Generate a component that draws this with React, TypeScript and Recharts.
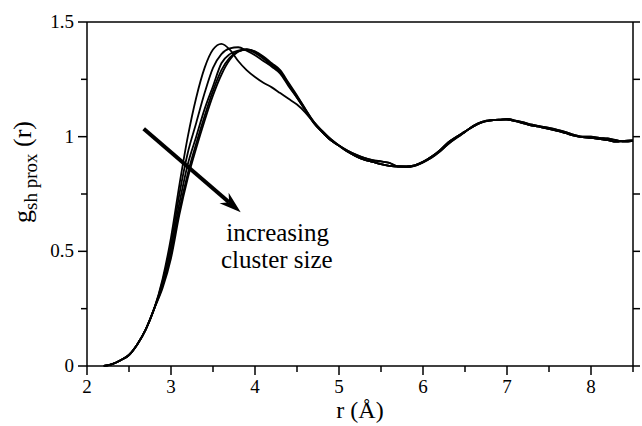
import { LineChart, Line, XAxis, YAxis, ReferenceLine, ReferenceDot } from "recharts";

const FONT = "'Liberation Serif', 'Times New Roman', serif";

// r grid (Å)
const R = [
  2.2, 2.3, 2.4, 2.5, 2.6, 2.7, 2.8, 2.9, 3.0, 3.1, 3.2, 3.3, 3.4, 3.5, 3.6, 3.7,
  3.8, 3.9, 4.0, 4.1, 4.2, 4.3, 4.4, 4.5, 4.6, 4.7, 4.8, 4.9, 5.0, 5.1, 5.2, 5.3,
  5.4, 5.5, 5.6, 5.7, 5.8, 5.9, 6.0, 6.1, 6.2, 6.3, 6.4, 6.5, 6.6, 6.7, 6.8, 6.9,
  7.0, 7.1, 7.2, 7.3, 7.4, 7.5, 7.6, 7.7, 7.8, 7.9, 8.0, 8.1, 8.2, 8.3, 8.4, 8.5,
];

// shared onset, r = 2.2 .. 2.8
const ONSET = [0, 0.008, 0.025, 0.048, 0.095, 0.16, 0.25];

// first peak region per cluster size, r = 2.9 .. 4.6
const PEAK_A = [0.38, 0.56, 0.79, 1.0, 1.17, 1.3, 1.38, 1.405, 1.38, 1.33, 1.29, 1.26, 1.235, 1.215, 1.19, 1.165, 1.14, 1.105];
const PEAK_B = [0.37, 0.53, 0.75, 0.93, 1.06, 1.19, 1.3, 1.36, 1.385, 1.39, 1.375, 1.355, 1.33, 1.305, 1.275, 1.22, 1.17, 1.115];
const PEAK_C = [0.36, 0.51, 0.71, 0.88, 1.0, 1.12, 1.22, 1.32, 1.36, 1.375, 1.38, 1.365, 1.34, 1.31, 1.28, 1.225, 1.17, 1.115];
const PEAK_D = [0.35, 0.49, 0.68, 0.84, 0.97, 1.09, 1.2, 1.29, 1.345, 1.372, 1.38, 1.37, 1.345, 1.315, 1.285, 1.23, 1.175, 1.12];
const PEAK_E = [0.34, 0.47, 0.66, 0.82, 0.95, 1.07, 1.18, 1.27, 1.335, 1.37, 1.38, 1.372, 1.35, 1.32, 1.29, 1.235, 1.18, 1.12];

// long-range part, r = 4.7 .. 8.5
const TAIL_1 = [
  1.06, 1.02, 0.985, 0.96, 0.935, 0.915, 0.9, 0.89, 0.88, 0.873, 0.87, 0.87, 0.875,
  0.89, 0.912, 0.94, 0.975, 1.0, 1.022, 1.045, 1.062, 1.07, 1.074, 1.074, 1.068,
  1.058, 1.048, 1.042, 1.034, 1.025, 1.015, 1.005, 0.998, 0.995, 0.99, 0.985, 0.978,
  0.982, 0.984,
];
const TAIL_2 = [
  1.065, 1.025, 0.99, 0.962, 0.94, 0.922, 0.908, 0.898, 0.892, 0.886, 0.87, 0.868,
  0.873, 0.888, 0.908, 0.935, 0.968, 0.995, 1.02, 1.048, 1.065, 1.072, 1.072, 1.078,
  1.07, 1.062, 1.052, 1.045, 1.038, 1.03, 1.02, 1.008, 1.0, 1.0, 0.995, 0.992, 0.985,
  0.978, 0.982,
];

const SERIES = [
  { key: "a", values: [...ONSET, ...PEAK_A, ...TAIL_1] },
  { key: "b", values: [...ONSET, ...PEAK_B, ...TAIL_2] },
  { key: "c", values: [...ONSET, ...PEAK_C, ...TAIL_1] },
  { key: "d", values: [...ONSET, ...PEAK_D, ...TAIL_2] },
  { key: "e", values: [...ONSET, ...PEAK_E, ...TAIL_1] },
];

const X_TICKS = [2, 2.5, 3, 3.5, 4, 4.5, 5, 5.5, 6, 6.5, 7, 7.5, 8, 8.5];
const Y_TICKS = [0, 0.25, 0.5, 0.75, 1, 1.25, 1.5];
const Y_LABELED = [0, 0.5, 1, 1.5];

const data = R.map((r, i) => {
  const row: Record<string, number> = { r };
  SERIES.forEach((s) => (row[s.key] = s.values[i]));
  return row;
});

const AXIS_LINE = { stroke: "#000", strokeWidth: 1.5 };

const XTick = (props: any) => {
  const v = props.payload.value as number;
  if (!Number.isInteger(v)) return <g />;
  return (
    <text x={props.x} y={Number(props.y) + 27} textAnchor="middle" fontSize={19} fontFamily={FONT} fill="#000">
      {v}
    </text>
  );
};

const YTick = (props: any) => {
  const v = props.payload.value as number;
  if (!Y_LABELED.includes(v)) return <g />;
  return (
    <text x={Number(props.x) - 13} y={Number(props.y) + 6} textAnchor="end" fontSize={19} fontFamily={FONT} fill="#000">
      {v}
    </text>
  );
};

const NoTick = () => <g />;

// tick mark shapes, anchored at the tick's position on the axis
const tickMark = (dx: number, dy: number) => (p: any) => (
  <line x1={p.x1} y1={p.y1} x2={p.x1 + dx} y2={p.y1 + dy} stroke="#000" strokeWidth={1.5} />
);

const YTitle = (props: any) => {
  const { viewBox } = props;
  const cx = viewBox.x - 55;
  const cy = viewBox.y + viewBox.height / 2 - 22;
  return (
    <text
      x={cx}
      y={cy}
      transform={`rotate(-90, ${cx}, ${cy})`}
      textAnchor="middle"
      fontFamily={FONT}
      fontSize={26}
      fill="#000"
    >
      g
      <tspan fontSize={19} dy={6}>sh prox</tspan>
      <tspan dy={-6}> (r)</tspan>
    </text>
  );
};

const XTitle = (props: any) => {
  const { viewBox } = props;
  return (
    <text
      x={viewBox.x + viewBox.width / 2}
      y={viewBox.y + 52}
      textAnchor="middle"
      fontFamily={FONT}
      fontSize={24}
      fill="#000"
    >
      r (Å)
    </text>
  );
};

const Arrow = (props: any) => {
  const { x1, y1, x2, y2 } = props;
  const a = Math.atan2(y2 - y1, x2 - x1);
  const len = 22;
  const half = 7;
  const bx = x2 - len * Math.cos(a);
  const by = y2 - len * Math.sin(a);
  const nx = -Math.sin(a);
  const ny = Math.cos(a);
  const inner = 0.7;
  const ix = x2 - len * inner * Math.cos(a);
  const iy = y2 - len * inner * Math.sin(a);
  return (
    <g>
      <line x1={x1} y1={y1} x2={ix} y2={iy} stroke="#000" strokeWidth={4} />
      <polygon
        points={`${x2},${y2} ${bx + half * nx},${by + half * ny} ${ix},${iy} ${bx - half * nx},${by - half * ny}`}
        fill="#000"
      />
    </g>
  );
};

const Caption = (text: string) => (props: any) => (
  <text
    x={props.cx}
    y={props.cy}
    textAnchor="middle"
    dominantBaseline="central"
    fontFamily={FONT}
    fontSize={25}
    fill="#000"
  >
    {text}
  </text>
);

export default function App() {
  return (
    <div style={{ position: "absolute", left: 0, top: 0, background: "#fff" }}>
      <LineChart width={642} height={426} data={data} margin={{ top: 21, right: 8, bottom: 0, left: 86 }}>
        <XAxis
          dataKey="r"
          type="number"
          domain={[2, 8.5]}
          ticks={X_TICKS}
          interval={0}
          tickSize={0}
          tickMargin={0}
          tick={<XTick />}
          tickLine={false}
          axisLine={AXIS_LINE}
          height={60}
          label={<XTitle />}
        />
        <XAxis
          xAxisId="top"
          orientation="top"
          dataKey="r"
          type="number"
          domain={[2, 8.5]}
          tick={false}
          tickLine={false}
          axisLine={AXIS_LINE}
          height={1}
        />
        <YAxis
          type="number"
          domain={[0, 1.5]}
          ticks={Y_TICKS}
          interval={0}
          tickSize={0}
          tickMargin={0}
          tick={<YTick />}
          tickLine={false}
          axisLine={AXIS_LINE}
          width={1}
          label={<YTitle />}
        />
        <YAxis
          yAxisId="right"
          orientation="right"
          type="number"
          domain={[0, 1.5]}
          ticks={Y_TICKS}
          tick={<NoTick />}
          tickLine={false}
          axisLine={AXIS_LINE}
          width={1}
        />
        {SERIES.map((s) => (
          <Line
            key={s.key}
            dataKey={s.key}
            type="monotone"
            stroke="#000"
            strokeWidth={1.8}
            dot={false}
            isAnimationActive={false}
          />
        ))}
        {X_TICKS.map((v) => (
          <ReferenceLine
            key={`xt${v}`}
            segment={[{ x: v, y: 0 }, { x: v, y: 0 }]}
            ifOverflow="visible"
            shape={tickMark(0, Number.isInteger(v) ? 9 : 6)}
          />
        ))}
        {Y_TICKS.map((v) => (
          <ReferenceLine
            key={`yl${v}`}
            segment={[{ x: 2, y: v }, { x: 2, y: v }]}
            ifOverflow="visible"
            shape={tickMark(Y_LABELED.includes(v) ? -9 : -6, 0)}
          />
        ))}
        {Y_TICKS.map((v) => (
          <ReferenceLine
            key={`yr${v}`}
            segment={[{ x: 8.5, y: v }, { x: 8.5, y: v }]}
            ifOverflow="visible"
            shape={tickMark(7, 0)}
          />
        ))}
        <ReferenceLine
          segment={[
            { x: 2.675, y: 1.035 },
            { x: 3.83, y: 0.67 },
          ]}
          shape={Arrow}
        />
        <ReferenceDot x={4.27} y={0.58} r={0} shape={Caption("increasing")} />
        <ReferenceDot x={4.26} y={0.463} r={0} shape={Caption("cluster size")} />
      </LineChart>
    </div>
  );
}
